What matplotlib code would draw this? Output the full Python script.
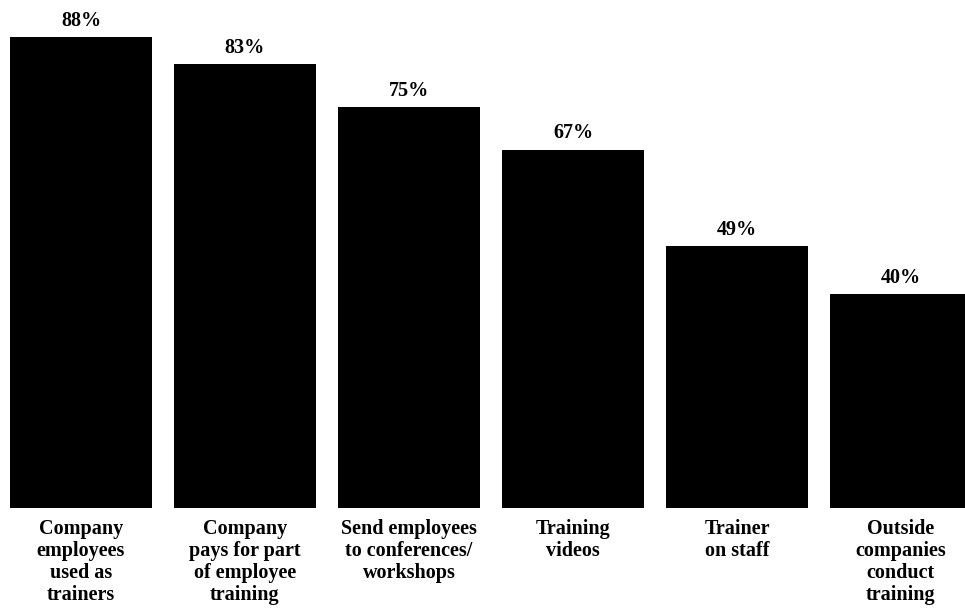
import matplotlib
matplotlib.use("Agg")
import matplotlib.pyplot as plt

categories = [
    "Company\nemployees\nused as\ntrainers",
    "Company\npays for part\nof employee\ntraining",
    "Send employees\nto conferences/\nworkshops",
    "Training\nvideos",
    "Trainer\non staff",
    "Outside\ncompanies\nconduct\ntraining",
]
values = [88, 83, 75, 67, 49, 40]
value_labels = ["88%", "83%", "75%", "67%", "49%", "40%"]

plt.rcParams['font.family'] = ['Liberation Serif', 'DejaVu Serif']

fig = plt.figure(figsize=(9.65, 6.13), dpi=100)
ax = fig.add_axes([0, (613 - 508) / 613, 1, 508 / 613])

x = list(range(len(values)))
ax.bar(x, values, width=0.866, color="black")
ax.set_xlim(-81 / 164, 5 + 64 / 164)
ax.set_ylim(0, 508 / 5.35)

for xi, v, lab in zip(x, values, value_labels):
    ax.annotate(lab, (xi, v), xytext=(0, 8), textcoords="offset points",
                ha="center", va="baseline", fontsize=14.5, fontweight="bold")

ax.set_xticks(x)
ax.set_xticklabels(categories, fontsize=14.5, fontweight="bold", linespacing=1.13,
                   va="top", ha="center")
ax.tick_params(axis="x", length=0, pad=8)
ax.set_yticks([])
for s in ax.spines.values():
    s.set_visible(False)

fig.savefig("out.png", dpi=100)
